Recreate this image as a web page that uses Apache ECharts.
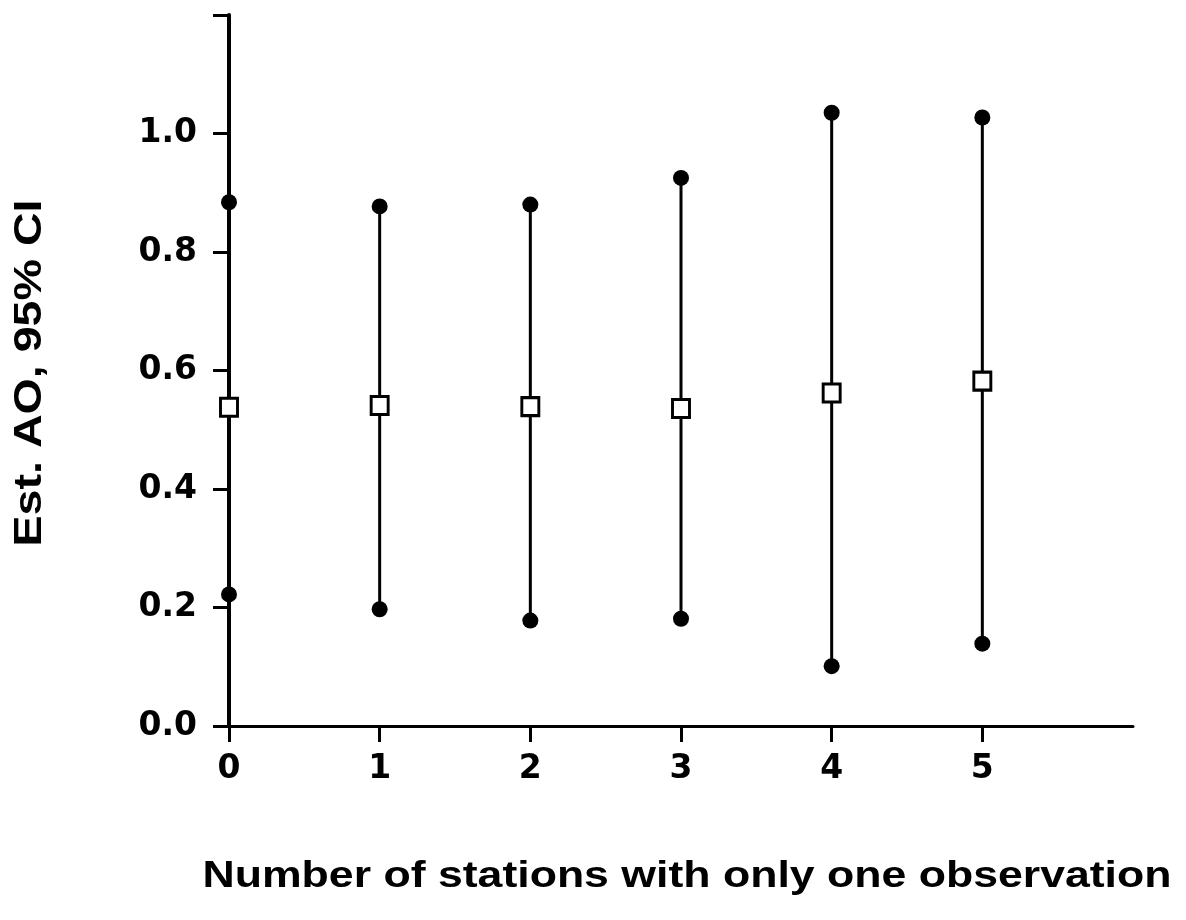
<!DOCTYPE html>
<html>
<head>
<meta charset="utf-8">
<script src="https://cdn.jsdelivr.net/npm/echarts@6/dist/echarts.min.js"></script>
<style>
html,body{margin:0;padding:0;background:#fff;}
#chart{width:1186px;height:920px;}
</style>
</head>
<body>
<div id="chart"></div>
<script>
// ---- data ----
const categories = [0, 1, 2, 3, 4, 5];
const lower    = [0.222, 0.197, 0.178, 0.181, 0.101, 0.139];
const upper    = [0.884, 0.877, 0.880, 0.925, 1.035, 1.027];
const estimate = [0.538, 0.541, 0.539, 0.536, 0.562, 0.582];
const xTickValues = [0, 1, 2, 3, 4, 5];
const yTickValues = [0, 0.2, 0.4, 0.6, 0.8, 1.0, 1.2];
const yLabelValues = [0, 0.2, 0.4, 0.6, 0.8, 1.0];
const xTitle = 'Number of stations with only one observation';
const yTitle = 'Est. AO, 95% CI';

// ---- helpers ----
const FONT = '"Liberation Sans", Arial, Helvetica, sans-serif';
function textWidth(txt, font) {
  const c = document.createElement('canvas').getContext('2d');
  c.font = font;
  return c.measureText(txt).width;
}
const xTitleFont = 'bold 36px ' + FONT;
const yTitleFont = 'bold 39px ' + FONT;
const xTitleScale = 969 / textWidth(xTitle, xTitleFont);
const yTitleScale = 347 / textWidth(yTitle, yTitleFont);

const chart = echarts.init(document.getElementById('chart'), null, {renderer: 'canvas'});

const ciData = categories.map((c, i) => [c, lower[i], upper[i]]);
const dotData = [];
categories.forEach((c, i) => { dotData.push([c, lower[i]]); dotData.push([c, upper[i]]); });
const estData = categories.map((c, i) => [c, estimate[i]]);

const labelStyle = {
  color: '#000', fontSize: 33, fontWeight: 'bold', fontFamily: '"DejaVu Sans", sans-serif'
};

const option = {
  backgroundColor: '#ffffff',
  animation: false,
  grid: {left: 229, right: 53, top: 15, bottom: 194, containLabel: false},
  xAxis: {
    type: 'value', min: 0, max: 6, interval: 1,
    axisLine: {show: true, lineStyle: {color: '#000', width: 3}},
    axisTick: {show: true, length: 16, lineStyle: {color: '#000', width: 3}, customValues: xTickValues},
    axisLabel: Object.assign({
      show: true, customValues: xTickValues, margin: 27,
      formatter: v => String(v)
    }, labelStyle),
    splitLine: {show: false}
  },
  yAxis: {
    type: 'value', min: 0, max: 1.2, interval: 0.2,
    axisLine: {show: true, lineStyle: {color: '#000', width: 4}},
    axisTick: {show: true, length: 16, lineStyle: {color: '#000', width: 3}, customValues: yTickValues},
    axisLabel: Object.assign({
      show: true, customValues: yLabelValues, margin: 32,
      formatter: v => v.toFixed(1)
    }, labelStyle),
    splitLine: {show: false}
  },
  graphic: [
    {
      type: 'text', x: 687, y: 877, scaleX: xTitleScale, scaleY: 1,
      style: {text: xTitle, font: xTitleFont, fill: '#000', textAlign: 'center', textVerticalAlign: 'middle'}
    },
    {
      type: 'text', x: 30, y: 373, rotation: Math.PI / 2, scaleX: yTitleScale, scaleY: 1,
      style: {text: yTitle, font: yTitleFont, fill: '#000', textAlign: 'center', textVerticalAlign: 'middle'}
    }
  ],
  series: [
    {
      type: 'custom',
      data: ciData,
      z: 2,
      renderItem: function (params, api) {
        const x = api.value(0);
        const p1 = api.coord([x, api.value(1)]);
        const p2 = api.coord([x, api.value(2)]);
        return {
          type: 'line',
          shape: {x1: p1[0], y1: p1[1], x2: p2[0], y2: p2[1]},
          style: {stroke: '#000', lineWidth: x === 0 ? 4 : 3}
        };
      }
    },
    {
      type: 'scatter',
      data: dotData,
      symbol: 'circle',
      symbolSize: 16,
      z: 3,
      itemStyle: {color: '#000', opacity: 1}
    },
    {
      type: 'scatter',
      data: estData,
      symbol: 'rect',
      symbolSize: [17, 18],
      z: 4,
      itemStyle: {color: '#fff', borderColor: '#000', borderWidth: 3, opacity: 1}
    }
  ]
};
chart.setOption(option);
</script>
</body>
</html>
